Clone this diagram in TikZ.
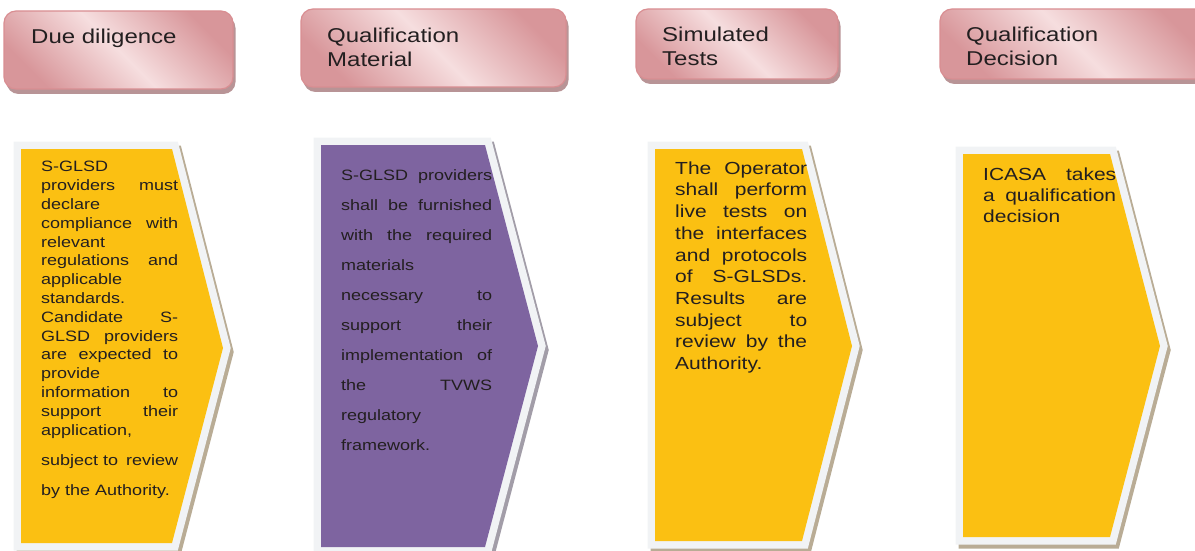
\documentclass[tikz,border=0pt]{standalone}
\usepackage{fontspec}
\setmainfont{Liberation Sans}[FakeStretch=1.2]
\usepackage{tikz}
\usetikzlibrary{shadows}
\definecolor{hdrlight}{HTML}{F6DEDF}
\definecolor{hdrdark}{HTML}{D8969A}
\definecolor{hdrline}{HTML}{D98E92}
\definecolor{hdrshadow}{HTML}{B89496}
\definecolor{chevyellow}{HTML}{FBC012}
\definecolor{chevpurple}{HTML}{7E64A0}
\definecolor{chevgrey}{HTML}{F1F3F5}
\definecolor{chevtan}{HTML}{B9AC95}
\definecolor{chevlilac}{HTML}{A29DA8}
\definecolor{txtcol}{HTML}{231F20}
\newlength{\colw}
\newcommand{\jl}[1]{\leavevmode\hbox to \colw{#1}}
\tikzset{
    hdrbox/.style={
        rounded corners=12pt, draw=hdrline, line width=1.2pt,
        left color=hdrdark, right color=hdrdark, middle color=hdrlight, shading angle=135,
        drop shadow={shadow xshift=2.5pt, shadow yshift=-5pt, fill=hdrshadow, opacity=1}
    },
    hdrtext/.style={anchor=north west, inner sep=0pt, align=left, text=txtcol,
        font=\fontsize{20}{24.5}\selectfont},
    chev/.style args={#1 #2}{
        fill=#1, line join=miter,
        preaction={draw=#2, line width=15pt, line join=miter,
            transform canvas={shift={(3pt,-4pt)}}},
        preaction={draw=chevgrey, line width=15pt, line join=miter}
    },
    chev/.default={chevyellow chevtan},
    bodytext/.style={anchor=north west, inner sep=0pt, align=left, text=txtcol}
}

\begin{document}
\begin{tikzpicture}[x=1pt,y=-1pt]
    \useasboundingbox (0,0) rectangle (1195,551);
    \clip (0,0) rectangle (1195,551);
    % headers
    \draw[hdrbox] (4,11) rectangle (233,89);
    \draw[hdrbox] (301,9) rectangle (566,87);
    \draw[hdrbox] (636,9) rectangle (838,79);
    \draw[hdrbox] (940,9) rectangle (1210,79);
    \node[hdrtext] (h1) at (31,28.6) {Due diligence};
    \node[hdrtext] (h2) at (327,27.6) {Qualification\\Material};
    \node[hdrtext] (h3) at (662,26.6) {Simulated\\Tests};
    \node[hdrtext] (h4) at (966,26.6) {Qualification\\Decision};
    % chevrons
    \path[chev] (21,149) -- (172,149) -- (223,348) -- (172,543) -- (21,543) -- cycle;
    \path[chev={chevpurple chevlilac}] (321,145) -- (485,145) -- (538,346) -- (485,547) -- (321,547) -- cycle;
    \path[chev] (655,149) -- (802,149) -- (852,346) -- (802,541) -- (655,541) -- cycle;
    \path[chev] (963,154) -- (1110,154) -- (1160,346) -- (1110,537) -- (963,537) -- cycle;
    \node[bodytext, text width=137pt, font=\fontsize{15}{18.8}\selectfont\setlength{\colw}{137pt}] (t1) at (41,161.2) {%
        S-GLSD\\ \jl{providers\hfill must}\\ declare\\ \jl{compliance\hfill with}\\ relevant\\
        \jl{regulations\hfill and}\\ applicable\\ standards.\\ \jl{Candidate\hfill S-}\\
        \jl{GLSD\hfill providers}\\ \jl{are\hfill expected\hfill to}\\ provide\\ \jl{information\hfill to}\\
        \jl{support\hfill their}\\ application,\\[11.2pt] \jl{subject to\hfill review}\\[12pt]
        by the Authority.};
    \node[bodytext, text width=151pt, font=\fontsize{15}{30}\selectfont\setlength{\colw}{151pt}] (t2) at (341,169.2) {%
        \jl{S-GLSD\hfill providers}\\ \jl{shall\hfill be\hfill furnished}\\ \jl{with\hfill the\hfill required}\\
        materials\\ \jl{necessary\hfill to}\\ \jl{support\hfill their}\\ \jl{implementation\hfill of}\\
        \jl{the\hfill TVWS}\\ regulatory\\ framework.};
    \node[bodytext, text width=132pt, font=\fontsize{17.5}{21.7}\selectfont\setlength{\colw}{132pt}] (t3) at (675,161.4) {%
        \jl{The\hfill Operator}\\ \jl{shall\hfill perform}\\ \jl{live\hfill tests\hfill on}\\ \jl{the\hfill interfaces}\\
        \jl{and\hfill protocols}\\ \jl{of\hfill S-GLSDs.}\\ \jl{Results\hfill are}\\ \jl{subject\hfill to}\\
        \jl{review\hfill by\hfill the}\\ Authority.};
    \node[bodytext, text width=133pt, font=\fontsize{17.5}{21}\selectfont\setlength{\colw}{133pt}] (t4) at (983,167.4) {%
        \jl{ICASA\hfill takes}\\ \jl{a\hfill qualification}\\ decision};
\end{tikzpicture}
\end{document}
